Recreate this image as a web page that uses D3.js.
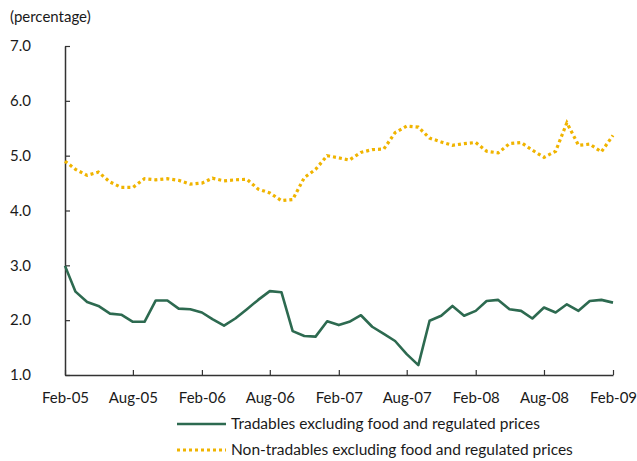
<!DOCTYPE html>
<html>
<head>
<meta charset="utf-8">
<script src="https://cdn.jsdelivr.net/npm/d3@7"></script>
<style>
  body { margin: 0; background: #fff; }
  text { font-family: Lato, "Open Sans", sans-serif; fill: #1a1a1a; }
</style>
</head>
<body>
<script>
// monthly series, Feb-05 .. Feb-09
var startMonth = new Date(2005, 1, 1);
var tradables = [2.99, 2.52, 2.33, 2.26, 2.12, 2.10, 1.97, 1.97, 2.36, 2.36, 2.21, 2.20, 2.14,
  2.02, 1.90, 2.03, 2.20, 2.37, 2.53, 2.51, 1.80, 1.71, 1.70, 1.98, 1.91, 1.97, 2.09, 1.88,
  1.75, 1.62, 1.38, 1.18, 1.99, 2.08, 2.26, 2.08, 2.17, 2.35, 2.37, 2.20, 2.17, 2.03, 2.23,
  2.14, 2.29, 2.17, 2.35, 2.37, 2.32];
var nonTradables = [4.90, 4.75, 4.64, 4.70, 4.52, 4.42, 4.42, 4.58, 4.56, 4.58, 4.55, 4.48, 4.50,
  4.59, 4.54, 4.56, 4.57, 4.39, 4.32, 4.18, 4.20, 4.60, 4.75, 5.00, 4.96, 4.92, 5.06, 5.11,
  5.12, 5.42, 5.54, 5.52, 5.32, 5.25, 5.19, 5.22, 5.24, 5.08, 5.05, 5.22, 5.24, 5.10, 4.97,
  5.08, 5.60, 5.19, 5.21, 5.07, 5.37];
var yTicks = [1, 2, 3, 4, 5, 6, 7];
var seriesNames = ["Tradables excluding food and regulated prices",
                   "Non-tradables excluding food and regulated prices"];

var width = 637, height = 461;
var margin = {top: 46, right: 24, bottom: 86, left: 65};

var svg = d3.select("body").append("svg")
    .attr("width", width)
    .attr("height", height);

var months = tradables.map(function(d, i) { return d3.timeMonth.offset(startMonth, i); });
// a tick every six months, starting at Feb-05
var xTicks = months.filter(function(d, i) { return i % 6 == 0; });

var xScale = d3.scaleTime()
    .domain([months[0], months[months.length - 1]])
    .range([margin.left, width - margin.right]);
var yScale = d3.scaleLinear()
    .domain([1, 7])
    .range([height - margin.bottom, margin.top]);

// axes
var xAxis = d3.axisBottom(xScale)
    .tickValues(xTicks)
    .tickFormat(d3.timeFormat("%b-%y"))
    .tickSize(-5).tickSizeOuter(0).tickPadding(17);
var yAxis = d3.axisLeft(yScale)
    .tickValues(yTicks)
    .tickFormat(d3.format(".1f"))
    .tickSize(-5).tickSizeOuter(0);

var gx = svg.append("g")
    .attr("transform", "translate(0," + (height - margin.bottom) + ")")
    .call(xAxis);
var gy = svg.append("g")
    .attr("transform", "translate(" + margin.left + ",0)")
    .call(yAxis);

[gx, gy].forEach(function(g) {
  g.select(".domain").attr("stroke", "#333").attr("stroke-width", 1.5);
  g.selectAll(".tick line").attr("stroke", "#333").attr("stroke-width", 1.2);
  g.selectAll(".tick text")
    .style("font-family", "Lato, 'Open Sans', sans-serif")
    .style("font-size", "15px")
    .attr("fill", "#1a1a1a");
});
gy.selectAll(".tick text").attr("text-anchor", "start").attr("x", -55);

svg.append("text")
    .attr("x", 10).attr("y", 22)
    .style("font-size", "15px")
    .text("(percentage)");

// lines
var line = d3.line()
    .x(function(d, i) { return xScale(months[i]); })
    .y(function(d) { return yScale(d); });

svg.append("path")
    .datum(nonTradables)
    .attr("fill", "none")
    .attr("stroke", "#f0b400")
    .attr("stroke-width", 3.2)
    .attr("stroke-dasharray", "3,3")
    .attr("d", line);

svg.append("path")
    .datum(tradables)
    .attr("fill", "none")
    .attr("stroke", "#2d6a50")
    .attr("stroke-width", 2.6)
    .attr("stroke-linejoin", "round")
    .attr("d", line);

// legend
var legend = svg.selectAll(".legend")
    .data(seriesNames)
  .enter().append("g")
    .attr("class", "legend")
    .attr("transform", function(d, i) { return "translate(177," + (424 + i * 26) + ")"; });

legend.append("line")
    .attr("x1", 0).attr("x2", 49)
    .attr("stroke", function(d, i) { return i == 0 ? "#2d6a50" : "#f0b400"; })
    .attr("stroke-width", function(d, i) { return i == 0 ? 2.6 : 3.2; })
    .attr("stroke-dasharray", function(d, i) { return i == 0 ? null : "3,3"; });

legend.append("text")
    .attr("x", 54)
    .attr("dy", "0.35em")
    .style("font-size", "15.5px")
    .text(function(d) { return d; });
</script>
</body>
</html>
